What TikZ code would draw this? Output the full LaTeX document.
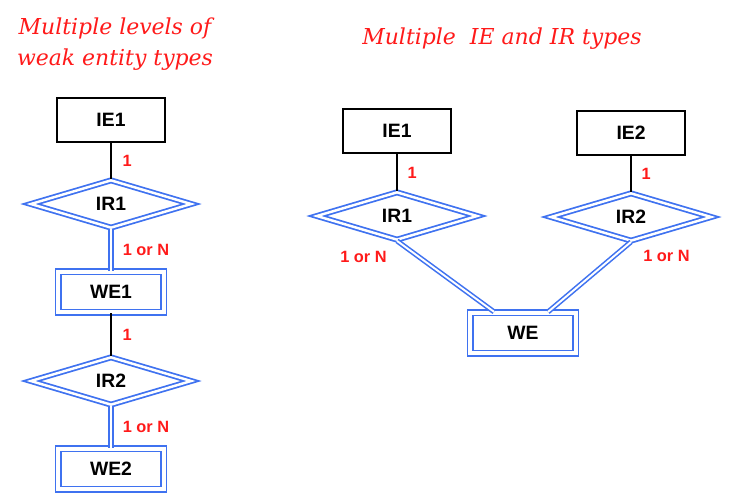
\documentclass[tikz,border=0pt]{standalone}
\usepackage{fontspec}
\setmainfont{Liberation Sans}
\newfontfamily\titlefont{DejaVu Serif}
\usetikzlibrary{shapes.geometric,positioning}
\definecolor{erblue}{HTML}{3F72F0}
\definecolor{ered}{HTML}{FF1A1A}
\tikzset{
	entity/.style={draw, line width=0.8pt, minimum width=2.16cm, minimum height=0.88cm, inner sep=0pt, font=\bfseries\fontsize{11}{13}\selectfont},
	weakentity/.style={draw=erblue, double, double distance=2.2pt, line width=1pt, minimum width=2.11cm, minimum height=0.81cm, inner sep=0pt, font=\bfseries\fontsize{11}{13}\selectfont},
	idrel/.style={diamond, draw=erblue, double, double distance=1.4pt, line width=1pt, minimum width=3.22cm, minimum height=0.96cm, inner sep=0pt, font=\bfseries\fontsize{11}{13}\selectfont},
	card/.style={text=ered, inner sep=0pt, font=\bfseries\fontsize{9.3}{11}\selectfont},
	idlink/.style={draw=erblue, double, double distance=1.1pt, line width=0.9pt},
	title/.style={text=ered, align=center, font=\titlefont\itshape\fontsize{12.5}{17.5}\selectfont}
}
\begin{document}
\begin{tikzpicture}
	\useasboundingbox (0,0) rectangle (14.58,-9.98);

	\node[title] (ttlleft) at (2.30,-0.88) {Multiple levels of\\weak entity types};
	\node[title] (ttlright) at (10.04,-0.78) {Multiple~~IE and IR types};

	\node[entity] (ieone) at (2.22,-2.40) {IE1};
	\node[idrel] (irone) at (2.22,-4.08) {IR1};
	\node[weakentity] (weone) at (2.22,-5.84) {WE1};
	\node[idrel] (irtwo) at (2.22,-7.62) {IR2};
	\node[weakentity] (wetwo) at (2.22,-9.38) {WE2};

	\draw[line width=0.8pt] (ieone) -- node[card, right=0.22cm] (cardone) {1} (irone);
	\draw[idlink] (irone) -- node[card, right=0.22cm] (cardtwo) {1 or N} (weone);
	\draw[line width=0.8pt] (weone) -- node[card, right=0.22cm] (cardthree) {1} (irtwo);
	\draw[idlink] (irtwo) -- node[card, right=0.22cm] (cardfour) {1 or N} (wetwo);

	\node[entity] (ieleft) at (7.94,-2.62) {IE1};
	\node[entity] (ieright) at (12.62,-2.66) {IE2};
	\node[idrel] (irleft) at (7.94,-4.32) {IR1};
	\node[idrel] (irright) at (12.62,-4.34) {IR2};
	\node[weakentity] (we) at (10.46,-6.66) {WE};

	\draw[line width=0.8pt] (ieleft) -- node[card, right=0.2cm] (cardfive) {1} (irleft);
	\draw[line width=0.8pt] (ieright) -- node[card, right=0.2cm] (cardsix) {1} (irright);
	\draw[idlink] (irleft.south) -- (we);
	\draw[idlink] (irright.south) -- (we);
	\node[card, below left=0.2cm and 0.2cm of irleft.south] (cardseven) {1 or N};
	\node[card, below right=0.16cm and 0.24cm of irright.south] (cardeight) {1 or N};
\end{tikzpicture}
\end{document}
